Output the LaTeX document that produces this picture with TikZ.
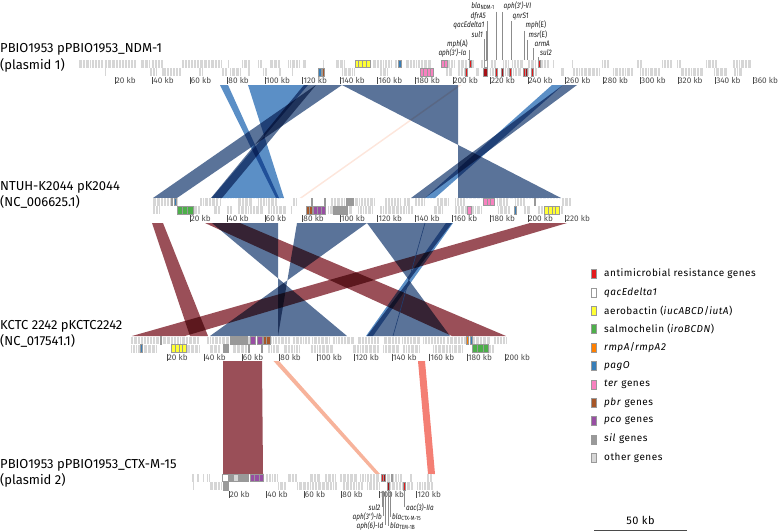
\documentclass[tikz,border=0pt]{standalone}
\usepackage{fontspec}
\setmainfont{Fira Sans}
\newfontfamily\figfont[LetterSpace=5]{Fira Sans}
\newfontfamily\genefont[FakeStretch=0.8]{Fira Sans}
\usepackage{tikz}
\definecolor{geneAMR}{HTML}{E41A1C}
\definecolor{geneAMRDark}{HTML}{A50F15}
\definecolor{geneIuc}{HTML}{FFFF33}
\definecolor{geneIro}{HTML}{4DAF4A}
\definecolor{geneRmp}{HTML}{FF7F00}
\definecolor{genePag}{HTML}{377EB8}
\definecolor{geneTer}{HTML}{F781BF}
\definecolor{genePbr}{HTML}{A65628}
\definecolor{genePco}{HTML}{984EA3}
\definecolor{geneSil}{HTML}{999999}
\definecolor{geneOther}{HTML}{D6D6D6}
\definecolor{ribDark}{HTML}{5A7399}
\definecolor{ribLight}{HTML}{5B8FC6}
\definecolor{ribRed}{HTML}{9A4F58}
\definecolor{ribPeach}{HTML}{F7B39B}
\definecolor{ribSalmon}{HTML}{F47F74}
\definecolor{ribFaint}{HTML}{FDE6DC}
\definecolor{ribNavy}{HTML}{1F3F73}
\definecolor{axisGray}{HTML}{4A4A4A}
\definecolor{leadGray}{HTML}{8C8C8C}

\begin{document}
\begin{tikzpicture}[
  x=1pt, y=-1pt,
  rib/.style={fill=#1, blend mode=multiply},
  gother/.style={fill=geneOther},
  gsep/.style={draw=white, line width=0.4pt},
  gcol/.style={fill=#1, draw=black!40, line width=0.2pt},
  kbtick/.style={draw=axisGray, line width=0.4pt},
  kblab/.style={font=\fontsize{8.2}{9}\selectfont, text=axisGray, anchor=west, inner sep=0.7pt},
  plab/.style={font=\fontsize{13}{16.5}\selectfont, align=left, anchor=north west, inner sep=0pt},
  glab/.style={font=\genefont\fontsize{8}{9}\selectfont\itshape, text=black!90, inner xsep=1.5pt, inner ysep=1.5pt},
  leader/.style={draw=leadGray, line width=0.4pt},
  legtext/.style={font=\figfont\fontsize{10}{12}\selectfont, anchor=west, inner sep=0pt},
]
  \useasboundingbox (0,0) rectangle (778,531);

  % Cintas entre plasmido 1 y pK2044
  \fill[rib=ribFaint] (459,85) -- (461.5,85) -- (302,198) -- (299.5,198) -- cycle;
  \fill[rib=ribDark] (342,85) -- (458,85) -- (458,198) -- (561,198) -- cycle;
  \fill[rib=ribLight] (248,85) -- (308,85) -- (211.5,198) -- (284,198) -- cycle;
  \fill[rib=ribLight] (220,85) -- (228,85) -- (279,198) -- (276,198) -- cycle;
  \fill[rib=ribDark] (316,85) -- (342,85) -- (177,198) -- (153,198) -- cycle;
  \fill[rib=ribDark] (304,85) -- (316,85) -- (222,198) -- (211,198) -- cycle;
  \fill[rib=ribLight] (552,85) -- (563,85) -- (435,198) -- (425,198) -- cycle;
  \fill[rib=ribDark] (563,85) -- (577,85) -- (425,198) -- (411,198) -- cycle;

  % Cintas entre pK2044 y pKCTC2242
  \fill[rib=ribRed] (152,223) -- (163,223) -- (208,336) -- (190,336) -- cycle;
  \fill[rib=ribRed] (205,223) -- (240,223) -- (506,336) -- (452,336) -- cycle;
  \fill[rib=ribRed] (530,223) -- (567,223) -- (185,336) -- (132,336) -- cycle;
  \fill[rib=ribDark] (212,223) -- (278,223) -- (278,336) -- (347,336) -- cycle;
  \fill[rib=ribDark] (297,223) -- (367,223) -- (210,336) -- (278,336) -- cycle;
  \fill[rib=ribDark] (367,223) -- (452,223) -- (367,336) -- (450,336) -- cycle;
  \fill[rib=ribLight] (446,223) -- (453,223) -- (373,336) -- (366,336) -- cycle;
  \draw[ribNavy, line width=0.6pt] (425,223) -- (393,336);

  % Cintas entre pKCTC2242 y plasmido 2
  \fill[rib=ribRed] (223,361) -- (262,361) -- (263,474) -- (223,474) -- cycle;
  \fill[rib=ribPeach] (273.5,361) -- (279,361) -- (380,474) -- (375.5,474) -- cycle;
  \fill[rib=ribSalmon] (418,361) -- (425,361) -- (435,474) -- (428,474) -- cycle;

  % Nombres de los plasmidos
  \node[plab] (p1) at (0,43.5) {PBIO1953 pPBIO1953\_NDM-1\\(plasmid 1)};
  \node[plab] (p2) at (0,181) {NTUH-K2044 pK2044\\(NC\_006625.1)};
  \node[plab] (p3) at (0,320) {KCTC 2242 pKCTC2242\\(NC\_017541.1)};
  \node[plab] (p4) at (0,459) {PBIO1953 pPBIO1953\_CTX-M-15\\(plasmid 2)};

  % Pista 1: pPBIO1953_NDM-1
  \begin{scope}[shift={(0,60)}]
    \foreach \a/\b in {78/104,105/137,140/150,152/163,182/222,227.5/228.5,242/250,258/262,270/280,288/300,302/307,322.5/323.5,335/345,372/392,394/397,405/432,448/455,458/467,471/474,480/483,490/496,503/509,512/523,528/536,540/550,553/554,560/561,572/573,602/610,637/642,662/673,677/682,705/717,733/751}
      \fill[gother] (\a,0) rectangle (\b,7.5);
    \foreach \a/\b in {104.5/105.5,150/157,162/182,198/203,222/227,230/242,247/250,263/267,278/282,292/293.5,342/355,380/388,397/398,445/452,458/465,475/480,490/495,505/509,513/522,527/530,535/538,560/565,572/600,613/633,640/660,680/703,713/727,733/743}
      \fill[gother] (\a,8) rectangle (\b,16);
    \foreach \i in {0,...,204} {
      \pgfmathsetmacro\xa{78+3.3*\i+0.9*sin(37*\i)}
      \pgfmathsetmacro\xb{79.5+3.3*\i+0.9*cos(53*\i)}
      \draw[gsep] (\xa,0) -- (\xa,7.5) (\xb,8) -- (\xb,16);
    }
    \foreach \a/\b/\c in {355/358.5/geneIuc,358.5/362/geneIuc,362/366/geneIuc,366/370/geneIuc,398/401/genePag,441/444/geneTer,444/447/geneTer,469/471.5/geneAMR,484/487.5/white,538/540/geneAMR}
      \fill[gcol=\c] (\a,0) rectangle (\b,7.5);
    \foreach \a/\b/\c in {318/321/genePag,322/324.5/genePbr,420/423.5/geneTer,423.5/427/geneTer,427/430/geneTer,430/433/geneTer,465/467.5/geneAMR,483/487/geneAMRDark,495/497.5/geneAMR,501/503.5/geneAMRDark,509/511.5/geneAMR,523/525/geneAMR,525/527.5/geneAMRDark,531/533.5/geneAMR}
      \fill[gcol=\c] (\a,8) rectangle (\b,16);
    \foreach \k in {20,40,...,360} {
      \draw[kbtick] ({77.5+1.876*\k},17) -- ++(0,7);
      \node[kblab] (t1k\k) at ({77.5+1.876*\k},20.5) {\k\ kb};
    }
  \end{scope}

  % Pista 2: pK2044
  \begin{scope}[shift={(0,198)}]
    \foreach \a/\b in {153/171,176.5/178,199.5/218,220/221,238/253,258/278,293/297.5,330/345,353/375,384/401,404/411,415/425,437/449,455/465,497/508,514.5/525,561/571}
      \fill[gother] (\a,0) rectangle (\b,7.5);
    \foreach \a/\b in {153/160,193/200,213/220,227/233,238/263,267/287,291/292,328/333,348/352,358/373,380/413,433/443,455/467,471/482,497/510,523/530,537/543,559/563}
      \fill[gother] (\a,8) rectangle (\b,16);
    \foreach \i in {0,...,128} {
      \pgfmathsetmacro\xa{152.5+3.3*\i+0.9*sin(37*\i)}
      \pgfmathsetmacro\xb{154+3.3*\i+0.9*cos(53*\i)}
      \draw[gsep] (\xa,0) -- (\xa,7.5) (\xb,8) -- (\xb,16);
    }
    \foreach \a/\b/\c in {171/172.5/geneRmp,174/176/genePag,311.5/312.5/genePbr,324.5/325.5/genePco,346/349.5/geneSil,349.5/353/geneSil,483.5/487/geneTer,487/490.5/geneTer,490.5/494/geneTer,534/535.5/geneRmp}
      \fill[gcol=\c] (\a,0) rectangle (\b,7.5);
    \foreach \a/\b/\c in {177/182/geneIro,182/187.5/geneIro,187.5/193/geneIro,306/309/genePbr,309/312/genePbr,313/317/genePco,317/321/genePco,321/325/genePco,333/337.5/geneSil,337.5/342/geneSil,342/347/geneSil,467/471/geneTer,514/516/genePag,544/548/geneIuc,548/552/geneIuc,552/555.5/geneIuc,555.5/559/geneIuc}
      \fill[gcol=\c] (\a,8) rectangle (\b,16);
    \foreach \k in {20,40,...,220} {
      \draw[kbtick] ({152.5+1.876*\k},17) -- ++(0,7);
      \node[kblab] (t2k\k) at ({152.5+1.876*\k},20.5) {\k\ kb};
    }
  \end{scope}

  % Pista 3: pKCTC2242
  \begin{scope}[shift={(0,336.5)}]
    \foreach \a/\b in {131/160,162/200,207/230,247/250,270/290,293/310,312/330,333/355,357/380,383/400,402/420,423/445,447/466,473/490,493/507}
      \fill[gother] (\a,0) rectangle (\b,7.5);
    \foreach \a/\b in {131/140,143/157,186/200,210/220,233/248,267/280,283/300,310/333,353/380,383/400,402/420,433/463,488/495}
      \fill[gother] (\a,8) rectangle (\b,16);
    \foreach \i in {0,...,114} {
      \pgfmathsetmacro\xa{129.5+3.3*\i+0.9*sin(37*\i)}
      \pgfmathsetmacro\xb{131+3.3*\i+0.9*cos(53*\i)}
      \draw[gsep] (\xa,0) -- (\xa,7.5) (\xb,8) -- (\xb,16);
    }
    \foreach \a/\b/\c in {160.5/161.5/geneRmp,230/235/geneSil,235/241/geneSil,241/247/geneSil,250/255/genePco,257/262/genePco,263/266.5/genePbr,266.5/270/genePbr,466.5/468/geneRmp,470.5/472/genePag}
      \fill[gcol=\c] (\a,0) rectangle (\b,7.5);
    \foreach \a/\b/\c in {140.5/142/genePag,171/175/geneIuc,175/179/geneIuc,179/182.5/geneIuc,182.5/186/geneIuc,223/228/geneSil,248.5/249.5/genePco,261.5/262.5/genePbr,472/477.5/geneIro,477.5/483/geneIro,483/488/geneIro}
      \fill[gcol=\c] (\a,8) rectangle (\b,16);
    \foreach \k in {20,40,...,200} {
      \draw[kbtick] ({129.5+1.876*\k},17) -- ++(0,7);
      \node[kblab] (t3k\k) at ({129.5+1.876*\k},20.5) {\k\ kb};
    }
  \end{scope}

  % Pista 4: pPBIO1953_CTX-M-15
  \begin{scope}[shift={(0,474)}]
    \foreach \a/\b in {192/194,197/199,202/204,207/210,265/278,287/297,310/320,325/337,340/357,360/380,385/390,393/403,410/413,427/433}
      \fill[gother] (\a,0) rectangle (\b,7.5);
    \foreach \a/\b in {193/194,210/222,278/287,297/317,318/337,343/363,367/380,389/403,405/413,417/433}
      \fill[gother] (\a,8) rectangle (\b,16);
    \foreach \i in {0,...,74} {
      \pgfmathsetmacro\xa{191.5+3.3*\i+0.9*sin(37*\i)}
      \pgfmathsetmacro\xb{193+3.3*\i+0.9*cos(53*\i)}
      \draw[gsep] (\xa,0) -- (\xa,7.5) (\xb,8) -- (\xb,16);
    }
    \foreach \a/\b/\c in {222/228/white,228/233/geneSil,233/238/geneOther,238/243/geneSil,243/248/geneSil,250/254.5/genePco,254.5/259/genePco,259/263/genePco,381/383/geneAMR,383/385/geneAMRDark,391/392.5/geneAMR}
      \fill[gcol=\c] (\a,0) rectangle (\b,7.5);
    \foreach \a/\b/\c in {223/228/geneSil,387/389/geneAMRDark,403/405/geneAMR}
      \fill[gcol=\c] (\a,8) rectangle (\b,16);
    \foreach \k in {20,40,...,120} {
      \draw[kbtick] ({191.5+1.876*\k},17) -- ++(0,7);
      \node[kblab] (t4k\k) at ({191.5+1.876*\k},20.5) {\k\ kb};
    }
  \end{scope}

  % Genes de resistencia, plasmido 1
  \foreach \n/\x/\y/\txt in {NDM/496.5/8.5/{bla\textsubscript{\upshape NDM-1}}, dfr/487.5/18/{dfrA5}, qac/486/27.5/{qacEdelta1}, sulA/484.5/37/{sul1}, mphA/469.5/46.5/{mph{\upshape(A)}}, aphA/468/55.5/{aph(3')-Ia}} {
    \coordinate (g\n) at (\x,60);
    \node[glab, anchor=base east] (l\n) at (\x,\y) {\txt};
    \draw[leader] (l\n.south east) -- (g\n);
  }
  \foreach \n/\x/\y/\txt in {aphB/502/8.5/{aph(3')-VI}, qnr/511/18/{qnrS1}, mphE/524/27.5/{mph{\upshape(E)}}, msr/527/37/{msr{\upshape(E)}}, arm/533/46.5/{armA}, sulB/538.5/55.5/{sul2}} {
    \coordinate (g\n) at (\x,60);
    \node[glab, anchor=base west] (l\n) at (\x,\y) {\txt};
    \draw[leader] (l\n.south west) -- (g\n);
  }

  % Genes de resistencia, plasmido 2
  \foreach \n/\x/\y/\txt in {sulC/382/510/{sul2}, aphC/383.5/519/{aph(3'')-Ib}, aphD/385/528/{aph(6)-Id}} {
    \coordinate (g\n) at (\x,490.5);
    \node[glab, anchor=base east] (l\n) at (\x,\y) {\txt};
    \draw[leader] (g\n) -- (l\n.east);
  }
  \foreach \n/\x/\y/\txt in {aac/404.5/510/{aac(3)-IIa}, ctx/390.5/519/{bla\textsubscript{\upshape CTX-M-15}}, tem/388.5/528/{bla\textsubscript{\upshape TEM-1B}}} {
    \coordinate (g\n) at (\x,490.5);
    \node[glab, anchor=base west] (l\n) at (\x,\y) {\txt};
    \draw[leader] (g\n) -- (l\n.west);
  }

  % Leyenda
  \foreach \i/\c/\txt in {0/geneAMR/{antimicrobial resistance genes}, 1/white/{\textit{qacEdelta1}}, 2/geneIuc/{aerobactin (\textit{iucABCD}/\textit{iutA})}, 3/geneIro/{salmochelin (\textit{iroBCDN})}, 4/geneRmp/{\textit{rmpA}/\textit{rmpA2}}, 5/genePag/{\textit{pagO}}, 6/geneTer/{\textit{ter} genes}, 7/genePbr/{\textit{pbr} genes}, 8/genePco/{\textit{pco} genes}, 9/geneSil/{\textit{sil} genes}, 10/geneOther/{other genes}} {
    \fill[gcol=\c] (591,{274+18.35*\i-4.5}) rectangle (596.5,{274+18.35*\i+4.5});
    \node[legtext] (leg\i) at (604,{274+18.35*\i}) {\txt};
  }

  % Barra de escala
  \coordinate (sbA) at (594,530);
  \coordinate (sbB) at (687,530);
  \draw[axisGray, line width=0.8pt] (sbA) -- (sbB) node[midway, above=2pt, font=\figfont\fontsize{11}{12}\selectfont, text=black] (sbl) {50 kb};
\end{tikzpicture}
\end{document}
